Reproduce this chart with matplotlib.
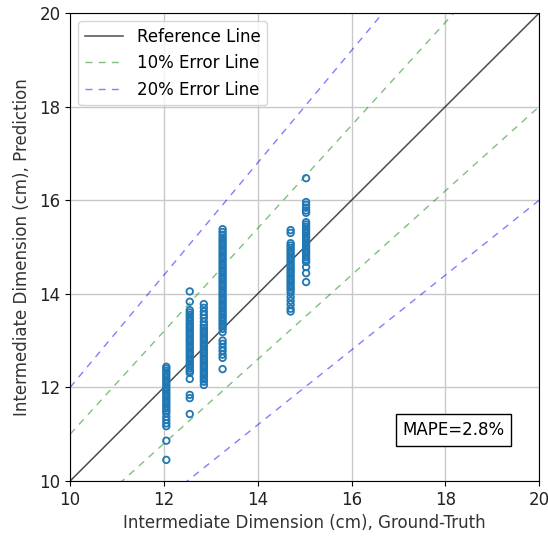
import matplotlib
matplotlib.use("Agg")
import matplotlib.pyplot as plt
import numpy as np

# Ground-truth intermediate dimension for each measured group (cm)
gt_groups = [12.05, 12.55, 12.85, 13.25, 14.70, 15.03]

# Predicted values per group (cm)
pred_groups = [
    [12.44, 12.40, 12.35, 12.30, 12.25, 12.20, 12.15, 12.10, 12.05, 12.00,
     11.95, 11.90, 11.85, 11.80, 11.75, 11.70, 11.65, 11.60, 11.55, 11.50,
     11.45, 11.37, 11.30, 11.23, 11.17, 10.86, 10.45],
    [14.05, 13.83, 13.65, 13.60, 13.55, 13.50, 13.45, 13.40, 13.35, 13.30,
     13.25, 13.20, 13.15, 13.10, 13.05, 13.00, 12.95, 12.90, 12.85, 12.80,
     12.75, 12.70, 12.65, 12.60, 12.55, 12.50, 12.45, 12.40, 12.35, 12.31,
     12.18, 11.84, 11.77, 11.43],
    [13.78, 13.70, 13.62, 13.55, 13.48, 13.40, 13.33, 13.27, 13.22, 13.17,
     13.12, 13.07, 13.02, 12.97, 12.92, 12.87, 12.82, 12.77, 12.72, 12.67,
     12.62, 12.57, 12.52, 12.47, 12.42, 12.37, 12.32, 12.27, 12.22, 12.17,
     12.12, 12.05],
    [15.38, 15.32, 15.26, 15.20, 15.15, 15.10, 15.05, 15.00, 14.95, 14.90,
     14.85, 14.80, 14.75, 14.70, 14.65, 14.60, 14.55, 14.50, 14.45, 14.40,
     14.35, 14.30, 14.25, 14.20, 14.15, 14.10, 14.05, 14.00, 13.95, 13.90,
     13.85, 13.80, 13.75, 13.70, 13.65, 13.60, 13.55, 13.50, 13.45, 13.40,
     13.35, 13.30, 13.25, 13.18, 13.00, 12.93, 12.85, 12.78, 12.70, 12.63,
     12.39],
    [15.36, 15.30, 15.08, 15.03, 14.98, 14.93, 14.88, 14.83, 14.78, 14.73,
     14.68, 14.63, 14.58, 14.53, 14.48, 14.43, 14.38, 14.33, 14.28, 14.23,
     14.18, 14.13, 14.08, 14.02, 13.93, 13.85, 13.77, 13.68, 13.62],
    [16.47, 15.96, 15.90, 15.84, 15.78, 15.73, 15.53, 15.48, 15.43, 15.38,
     15.33, 15.28, 15.23, 15.18, 15.13, 15.08, 15.03, 14.98, 14.93, 14.88,
     14.83, 14.78, 14.73, 14.68, 14.57, 14.44, 14.25],
]

mape_text = "MAPE=2.8%"
axis_min, axis_max = 10, 20

fig = plt.figure(figsize=(5.48, 5.41), dpi=100)
ax = fig.add_axes([0.128, 0.111, 0.856, 0.865])

dash = (5, 4.5)
line_x = np.array([axis_min, axis_max])
ax.plot(line_x, line_x, color="k", alpha=0.7, lw=1.1, label="Reference Line", zorder=2)
ax.plot(line_x, line_x * 1.1, color="g", alpha=0.5, lw=1.0, dashes=dash,
        label="10% Error Line", zorder=2)
ax.plot(line_x, line_x * 0.9, color="g", alpha=0.5, lw=1.0, dashes=dash, zorder=2)
ax.plot(line_x, line_x * 1.2, color="b", alpha=0.5, lw=1.0, dashes=dash,
        label="20% Error Line", zorder=2)
ax.plot(line_x, line_x * 0.8, color="b", alpha=0.5, lw=1.0, dashes=dash, zorder=2)

for gt, preds in zip(gt_groups, pred_groups):
    ax.scatter(np.full(len(preds), gt), preds, s=22, facecolors="none",
               edgecolors="tab:blue", linewidths=1.3, zorder=3)

ax.set_xlim(axis_min, axis_max)
ax.set_ylim(axis_min, axis_max)
ax.set_xticks(np.arange(10, 21, 2))
ax.set_yticks(np.arange(10, 21, 2))
ax.tick_params(labelsize=12, labelcolor="#222222")
ax.grid(True, color="#c8c8c8", lw=1.0)
ax.set_axisbelow(True)
ax.set_xlabel("Intermediate Dimension (cm), Ground-Truth", fontsize=12, color="#333333")
ax.set_ylabel("Intermediate Dimension (cm), Prediction", fontsize=12, color="#333333",
              labelpad=6)
ax.legend(loc="upper left", fontsize=12, handlelength=2.3)

ax.text(18.17, 11.09, mape_text, fontsize=12, ha="center", va="center",
        bbox=dict(boxstyle="square,pad=0.4", facecolor="white", edgecolor="black"))

fig.savefig("out.png", dpi=100)
